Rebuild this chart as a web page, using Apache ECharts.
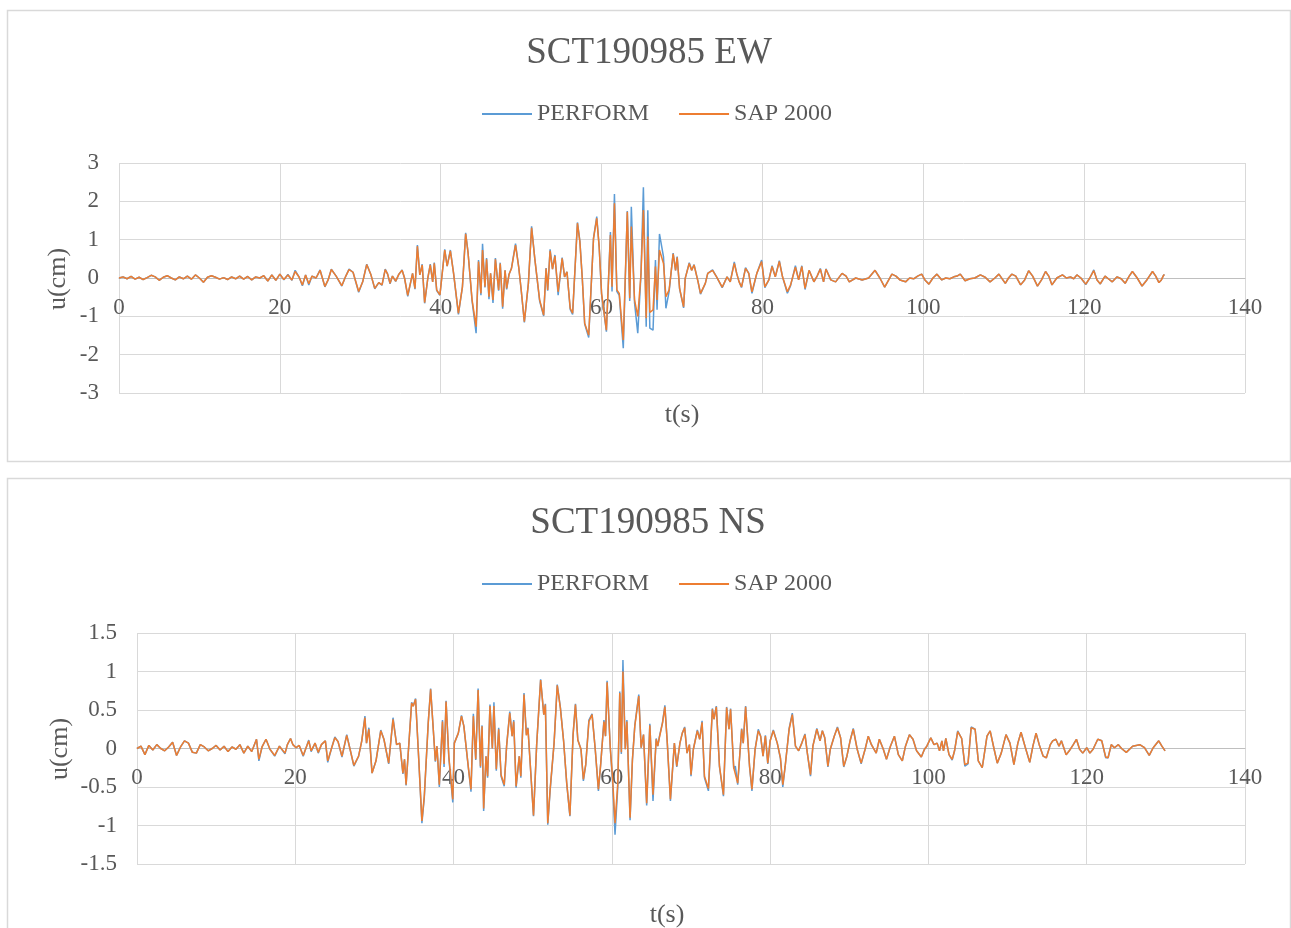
<!DOCTYPE html>
<html>
<head>
<meta charset="utf-8">
<script src="https://cdn.jsdelivr.net/npm/echarts@6/dist/echarts.min.js"></script>
<style>
html,body{margin:0;padding:0;background:#fff;}
#c{width:1291px;height:928px;}
</style>
</head>
<body>
<div id="c"></div>
<script>
// ---------- DATA ----------
const seriesNames = ['PERFORM', 'SAP 2000'];
const xTicks = [0, 20, 40, 60, 80, 100, 120, 140];

// EW component: time (s) and displacement u (cm)
const ewTime = [
 0,0.5,1,1.5,2,2.5,3,3.5,4,4.5,
 5,5.5,6,6.5,7,7.5,8,8.5,9,9.5,
 10,10.5,11,11.5,12,12.5,13,13.5,14,14.5,
 15,15.5,16,16.5,17,17.5,18,18.5,19,19.5,
 20,20.5,21,21.5,21.9,22.4,22.8,23.2,23.6,24,
 24.5,25,25.6,26,26.4,27,27.7,28.2,28.6,29.1,
 29.8,30.3,30.8,31.3,31.8,32.3,32.7,33.1,33.4,33.7,
 34,34.4,34.8,35.2,35.5,35.9,36.5,36.8,37.1,37.4,
 37.7,38,38.4,38.7,39,39.2,39.5,39.9,40.5,40.8,
 41.2,41.6,42.2,42.7,43.1,43.4,43.9,44.4,44.7,45,
 45.2,45.5,45.7,46,46.2,46.5,46.8,47.2,47.4,47.7,
 48,48.2,48.5,48.8,49,49.3,49.7,50,50.4,50.9,
 51.3,51.7,51.9,52.3,52.8,53.1,53.3,53.6,53.9,54.2,
 54.6,55.1,55.4,55.7,56.1,56.4,57,57.3,57.6,57.9,
 58.4,59,59.4,59.7,60,60.6,61.1,61.3,61.6,61.9,
 62.2,62.7,63.2,63.5,63.7,64.1,64.5,64.9,65.2,65.55,
 65.75,66,66.4,66.7,66.9,67.2,67.7,68,68.4,68.9,
 69.2,69.4,69.7,70.2,70.4,70.9,71.2,71.5,72,72.3,
 72.9,73.2,73.8,74.3,75,75.6,76,76.5,76.8,77.1,
 77.4,77.9,78.3,78.7,79.3,79.9,80.3,80.8,81.2,81.6,
 82.1,82.5,83.1,83.5,84.1,84.5,84.9,85.3,85.8,86.4,
 86.8,87.2,87.6,87.9,88.5,89.1,89.9,90.4,90.8,91.6,
 92.4,93.2,94,94.6,95.2,96.1,96.6,97.1,97.8,98.3,
 98.8,99.3,99.8,100.2,100.7,101.2,101.7,102.3,102.8,103.3,
 103.8,104.2,104.6,105.2,105.8,106.4,107.1,107.7,108.3,108.9,
 109.4,110.2,110.6,111,111.5,112.1,112.6,113.1,113.6,114.2,
 114.7,115.2,115.6,116,116.6,117.3,117.8,118.3,118.7,119.1,
 119.6,120.2,120.7,121.2,121.6,122,122.6,123,123.5,124.1,
 124.6,125.1,125.6,126,126.6,127.2,127.8,128.5,128.9,129.3,
 129.6,129.9,130
];
const ewSap = [
 0,0.03,-0.02,0.04,-0.03,0.02,-0.04,0.01,0.07,0.03,
 -0.06,0.02,0.06,0,-0.05,0.03,-0.02,0.05,-0.03,0.08,
 0,-0.11,0.02,0.06,0.02,-0.03,0.01,-0.04,0.03,-0.02,
 0.05,-0.03,0.04,-0.05,0.03,0,0.06,-0.08,0.08,-0.06,
 0.1,-0.04,0.08,-0.05,0.17,0.02,-0.18,0.08,-0.15,0.05,
 0,0.2,-0.22,-0.05,0.22,0.05,-0.2,0.05,0.22,0.15,
 -0.35,-0.1,0.35,0.1,-0.27,-0.12,-0.18,0.22,0.1,-0.14,
 0.05,-0.08,0.1,0.2,0,-0.45,0.12,-0.27,0.83,0.08,
 0.34,-0.64,0,0.34,-0.1,0.38,-0.31,-0.44,0.73,0.31,
 0.71,0.12,-0.92,-0.23,1.15,0.66,-0.57,-1.27,0.43,-0.4,
 0.73,-0.23,0.49,-0.49,0.12,-0.57,0.49,-0.31,0.38,-0.75,
 0.2,-0.27,0.1,0.25,0.22,0.86,0.28,-0.3,-1.14,-0.14,
 1.31,0.5,0.47,-0.57,-0.97,0.25,-0.31,0.71,0.23,0.57,
 -0.36,0.51,0.03,0.16,-0.79,-0.92,1.43,0.95,0,-1.18,
 -1.49,1.03,1.56,0.82,-0.4,-1.36,1.12,-0.23,1.95,-0.31,
 -0.4,-1.62,1.73,-0.53,1.34,-0.57,-1.0,0.1,1.77,-1.05,
 1.08,-0.9,-0.83,0.3,-0.57,0.73,0.38,-0.49,-0.31,0.63,
 0.2,0.54,-0.27,-0.75,-0.01,0.38,0.2,0.34,-0.1,-0.4,
 -0.14,0.12,0.2,0.03,-0.24,0.03,-0.1,0.38,0.12,-0.1,
 -0.23,0.25,0.12,-0.36,0.12,0.43,-0.23,-0.05,0.3,0.03,
 0.43,0.03,-0.36,-0.18,0.28,-0.05,0.3,-0.27,0.2,-0.1,
 0.05,0.23,-0.1,0.23,-0.05,-0.1,0.12,0.05,-0.1,0,
 -0.05,0,0.2,0,-0.24,0.1,0.05,-0.05,-0.1,0,
 -0.02,0.05,0.1,-0.05,-0.16,0,0.1,-0.05,0,-0.02,
 0.03,0.05,0.1,-0.07,-0.02,0,0.08,0.02,-0.1,0,
 0.1,-0.14,0,0.1,0.05,-0.18,-0.05,0.19,0.05,-0.21,
 -0.05,0.17,0.05,-0.18,0,0.08,0,0.03,-0.02,0.08,
 0,-0.16,0,0.19,-0.05,-0.15,0.05,-0.02,-0.1,0.03,
 -0.02,-0.14,0.05,0.17,0,-0.21,-0.05,0.17,0.05,-0.12,
 -0.05,0.08,0.07
];
const ewPerform = [
 0,0.03,-0.02,0.04,-0.03,0.02,-0.04,0.01,0.07,0.03,
 -0.06,0.02,0.06,0,-0.05,0.03,-0.02,0.05,-0.03,0.08,
 0,-0.11,0.02,0.06,0.02,-0.03,0.01,-0.04,0.03,-0.02,
 0.05,-0.03,0.04,-0.05,0.03,0,0.06,-0.08,0.08,-0.06,
 0.1,-0.05,0.09,-0.06,0.2,0.02,-0.2,0.08,-0.18,0.05,
 0,0.21,-0.23,-0.05,0.23,0.05,-0.21,0.05,0.23,0.15,
 -0.37,-0.1,0.36,0.1,-0.28,-0.12,-0.19,0.23,0.1,-0.15,
 0.05,-0.09,0.1,0.21,0,-0.48,0.12,-0.29,0.86,0.08,
 0.36,-0.66,0,0.36,-0.1,0.4,-0.33,-0.45,0.75,0.31,
 0.73,0.12,-0.95,-0.23,1.18,0.66,-0.6,-1.44,0.47,-0.45,
 0.89,-0.25,0.52,-0.55,0.12,-0.65,0.52,-0.33,0.4,-0.8,
 0.2,-0.3,0.1,0.26,0.22,0.9,0.28,-0.3,-1.16,-0.14,
 1.35,0.5,0.47,-0.6,-0.99,0.26,-0.33,0.75,0.23,0.6,
 -0.45,0.53,0.03,0.16,-0.82,-0.95,1.45,0.97,0,-1.2,
 -1.55,1.05,1.6,0.82,-0.42,-1.4,1.2,-0.35,2.19,-0.35,
 -0.45,-1.83,1.75,-0.6,1.86,-0.65,-1.44,0.1,2.37,-1.27,
 1.77,-1.31,-1.36,0.47,-0.83,1.15,0.55,-0.79,-0.35,0.65,
 0.2,0.56,-0.28,-0.78,-0.01,0.4,0.2,0.35,-0.1,-0.42,
 -0.14,0.12,0.21,0.03,-0.25,0.03,-0.1,0.42,0.12,-0.1,
 -0.25,0.27,0.12,-0.4,0.12,0.47,-0.25,-0.05,0.32,0.03,
 0.45,0.03,-0.4,-0.2,0.32,-0.05,0.32,-0.3,0.2,-0.1,
 0.05,0.25,-0.1,0.24,-0.05,-0.1,0.12,0.05,-0.1,0,
 -0.05,0,0.2,0,-0.24,0.1,0.05,-0.05,-0.1,0,
 -0.02,0.05,0.1,-0.05,-0.16,0,0.1,-0.05,0,-0.02,
 0.03,0.05,0.1,-0.07,-0.02,0,0.08,0.02,-0.1,0,
 0.1,-0.14,0,0.1,0.05,-0.18,-0.05,0.19,0.05,-0.21,
 -0.05,0.17,0.05,-0.18,0,0.08,0,0.03,-0.02,0.08,
 0,-0.17,0,0.21,-0.05,-0.16,0.05,-0.02,-0.1,0.03,
 -0.02,-0.14,0.05,0.17,0,-0.21,-0.05,0.17,0.05,-0.12,
 -0.05,0.08,0.07
];

// NS component
const nsTime = [
 0,0.5,1,1.5,2,2.5,3,3.5,4,4.5,
 5,5.5,6,6.5,7,7.5,8,8.5,9,9.5,
 10,10.5,11,11.5,12,12.5,13,13.5,14,14.5,
 15.1,15.4,15.8,16.3,16.8,17.4,18,18.7,19,19.4,
 19.7,20.1,20.5,21,21.4,21.7,22,22.5,22.9,23.3,
 23.8,24.1,24.6,25,25.4,25.9,26.5,26.9,27.4,28,
 28.4,28.8,29,29.3,29.7,30.2,30.8,31.2,31.8,32.35,
 32.8,33.2,33.6,33.8,34,34.7,34.9,35.2,35.6,36,
 36.3,36.8,37.1,37.7,37.9,38.2,38.6,38.8,39.05,39.4,
 39.9,40.1,40.6,41,41.3,41.9,42.2,42.5,42.8,43.1,
 43.4,43.6,43.8,44.1,44.3,44.6,44.9,45.1,45.4,45.7,
 46,46.4,46.7,47.1,47.4,47.6,47.9,48.3,48.5,48.9,
 49.2,49.4,50.1,50.5,51,51.4,51.6,51.9,52.2,52.7,
 53.1,53.5,53.9,54.3,54.7,55.1,55.4,55.7,56.1,56.4,
 56.7,57.1,57.5,57.9,58.3,58.6,59,59.2,59.4,59.8,
 60.1,60.4,60.75,61,61.2,61.4,61.7,61.9,62.3,62.6,
 62.9,63.4,63.7,64,64.4,64.8,65.2,65.6,65.8,66,
 66.4,66.7,67,67.4,67.9,68.2,68.6,68.9,69.2,69.5,
 69.8,70,70.3,70.8,71.1,71.4,71.7,72.2,72.7,72.9,
 73.2,73.6,74.1,74.5,74.8,75,75.4,75.6,75.9,76.4,
 76.6,76.9,77.4,77.7,78.1,78.5,78.8,79.1,79.4,79.7,
 80,80.4,80.9,81.3,81.6,81.9,82.4,82.8,83.2,83.6,
 84,84.4,84.7,85.1,85.4,85.9,86.3,86.6,86.9,87.3,
 87.6,88.1,88.5,88.9,89.3,89.7,90.1,90.5,91,91.5,
 92,92.4,92.8,93.4,93.8,94.3,94.7,95.2,95.7,96.2,
 96.7,97.1,97.6,98.05,98.5,99.1,99.5,99.8,100.3,100.7,
 101.1,101.4,101.7,101.9,102.2,102.6,103,103.3,103.7,104.2,
 104.6,105,105.4,105.9,106.3,106.8,107.4,107.8,108.3,108.7,
 109.2,109.8,110.3,110.8,111.3,111.7,112.2,112.8,113.2,113.6,
 114,114.5,114.9,115.4,115.7,116.1,116.5,116.8,117.4,117.8,
 118.3,118.7,119.1,119.5,120,120.4,120.8,121.4,121.9,122.4,
 122.7,123.1,123.5,124,124.4,125,125.8,126.7,127.3,127.9,
 128.4,129.1,129.5,129.9
];
const nsSap = [
 0,0.03,-0.08,0.04,-0.02,0.05,0,-0.03,0.02,0.08,
 -0.09,0.02,0.1,0.07,-0.05,-0.06,0.05,0.02,-0.03,0,
 0.04,-0.02,0.03,-0.04,0.02,-0.01,0.05,-0.06,0.03,-0.04,
 0.12,-0.14,0.02,0.12,-0.01,-0.09,0.03,-0.06,0.05,0.13,
 0.05,0.01,0.04,-0.09,0.02,0.1,-0.03,0.07,-0.05,0.05,
 0.1,-0.16,0.01,0.14,0.09,-0.1,0.17,0,-0.22,-0.1,
 0.1,0.4,0.07,0.25,-0.32,-0.16,0.23,0.12,-0.19,0.38,
 0.05,0.07,-0.32,-0.14,-0.47,0.59,0.55,0.64,-0.14,-0.94,
 -0.62,0.33,0.77,-0.16,0.03,-0.47,0.35,-0.2,0.61,-0.1,
 -0.66,0.07,0.2,0.42,0.29,-0.27,-0.53,0.42,-0.14,0.76,
 -0.23,0.29,-0.78,-0.1,-0.36,0.55,0,0.55,-0.27,0.25,
 -0.34,-0.47,0.03,0.46,0.16,0.35,-0.49,-0.1,-0.36,0.7,
 0.17,0.26,-0.87,0.05,0.89,0.44,0.57,-0.97,-0.53,0.07,
 0.82,0.52,0.1,-0.45,-0.87,0.18,0.57,0.11,-0.01,-0.4,
 -0.21,0.35,0.44,-0.01,-0.53,-0.19,0.35,0.16,0.86,0.01,
 -0.4,-0.97,-0.45,0.72,-0.05,1.0,-0.01,0.35,-0.9,-0.14,
 0.29,0.68,0.01,0.18,-0.71,0.3,-0.6,0.12,0.03,0.14,
 0.33,0.54,0.08,-0.66,0.07,-0.23,0.07,0.2,0.27,-0.06,
 0.05,-0.34,-0.01,0.23,0.12,0.34,-0.36,-0.52,0.51,0.38,
 0.54,-0.23,-0.6,0.53,0.25,0.51,-0.25,-0.23,-0.45,0.25,
 0.07,0.54,-0.23,-0.53,-0.01,0.23,0.16,-0.1,0.16,-0.19,
 0.1,0.23,0.07,-0.12,-0.47,-0.23,0.25,0.44,0.03,-0.03,
 0.07,0.18,-0.06,-0.34,0.03,0.25,0.1,0.23,0.14,-0.23,
 -0.01,0.16,0.27,0.14,-0.23,-0.1,0.1,0.25,-0.01,-0.19,
 -0.01,0.16,0.05,-0.06,0.12,-0.01,-0.14,0.03,0.16,-0.08,
 -0.16,0.03,0.18,0.12,-0.03,-0.11,-0.01,0.03,0.14,0.05,
 0.07,-0.03,0.1,-0.03,0.13,-0.08,-0.14,-0.03,0.22,0.13,
 -0.21,-0.19,0.27,0.25,-0.16,-0.25,0.16,0.23,-0.01,-0.19,
 -0.06,0.18,0.07,-0.21,0.07,0.21,0.03,-0.18,0.03,0.2,
 0.05,-0.1,-0.12,0.05,0.1,0.12,0.03,0.1,-0.08,-0.03,
 0.05,0.12,-0.01,-0.06,0.01,-0.06,-0.01,0.12,0.1,-0.11,
 -0.12,0.05,0.01,0.05,0,-0.05,0.03,0.05,0.01,-0.09,
 0.01,0.1,0.03,-0.03
];
const nsPerform = [
 0,0.03,-0.08,0.04,-0.02,0.05,0,-0.03,0.02,0.08,
 -0.09,0.02,0.1,0.07,-0.05,-0.06,0.05,0.02,-0.03,0,
 0.04,-0.02,0.03,-0.04,0.02,-0.01,0.05,-0.06,0.03,-0.04,
 0.12,-0.16,0.02,0.12,-0.01,-0.1,0.03,-0.07,0.05,0.13,
 0.05,0.01,0.04,-0.1,0.02,0.11,-0.04,0.07,-0.06,0.05,
 0.1,-0.18,0.01,0.15,0.09,-0.11,0.18,0,-0.23,-0.1,
 0.1,0.42,0.07,0.27,-0.32,-0.16,0.24,0.12,-0.2,0.4,
 0.05,0.07,-0.33,-0.14,-0.48,0.6,0.55,0.65,-0.14,-0.97,
 -0.64,0.34,0.78,-0.17,0.03,-0.5,0.37,-0.24,0.62,-0.12,
 -0.7,0.07,0.2,0.43,0.29,-0.28,-0.56,0.45,-0.15,0.78,
 -0.25,0.3,-0.81,-0.1,-0.38,0.57,0,0.6,-0.29,0.27,
 -0.36,-0.49,0.03,0.48,0.16,0.37,-0.51,-0.1,-0.38,0.72,
 0.18,0.27,-0.88,0.05,0.9,0.44,0.58,-0.99,-0.55,0.07,
 0.83,0.53,0.1,-0.46,-0.88,0.18,0.58,0.11,-0.01,-0.42,
 -0.21,0.37,0.45,-0.01,-0.55,-0.19,0.37,0.16,0.88,0.01,
 -0.45,-1.12,-0.5,0.74,-0.07,1.15,-0.01,0.37,-0.93,-0.15,
 0.3,0.7,0.01,0.18,-0.74,0.32,-0.68,0.13,0.03,0.15,
 0.34,0.56,0.08,-0.68,0.07,-0.24,0.07,0.2,0.28,-0.06,
 0.05,-0.36,-0.01,0.24,0.12,0.36,-0.38,-0.55,0.52,0.38,
 0.55,-0.24,-0.62,0.54,0.25,0.52,-0.26,-0.23,-0.47,0.26,
 0.07,0.55,-0.24,-0.55,-0.01,0.25,0.16,-0.1,0.17,-0.2,
 0.1,0.24,0.07,-0.13,-0.5,-0.23,0.26,0.46,0.03,-0.03,
 0.07,0.19,-0.06,-0.36,0.03,0.26,0.1,0.23,0.14,-0.24,
 -0.01,0.16,0.28,0.14,-0.24,-0.1,0.1,0.26,-0.01,-0.2,
 -0.01,0.16,0.05,-0.06,0.12,-0.01,-0.14,0.03,0.16,-0.08,
 -0.16,0.03,0.18,0.12,-0.03,-0.11,-0.01,0.03,0.14,0.05,
 0.07,-0.03,0.1,-0.03,0.13,-0.08,-0.15,-0.03,0.23,0.13,
 -0.23,-0.2,0.28,0.25,-0.16,-0.25,0.16,0.23,-0.01,-0.19,
 -0.06,0.18,0.07,-0.21,0.07,0.21,0.03,-0.18,0.03,0.2,
 0.05,-0.1,-0.12,0.05,0.1,0.12,0.03,0.1,-0.08,-0.03,
 0.05,0.12,-0.01,-0.06,0.01,-0.06,-0.01,0.12,0.1,-0.12,
 -0.12,0.05,0.01,0.05,0,-0.05,0.03,0.05,0.01,-0.09,
 0.01,0.1,0.03,-0.03
];

// ---------- CHART ----------
const FONT = '"Liberation Serif", "Times New Roman", serif';
const TXT = '#595959';
const GRID = '#d9d9d9';
const BLUE = '#5b9bd5';
const ORANGE = '#ed7d31';

function pairs(t, v) { return t.map((x, i) => [x, v[i]]); }

// x axis drawn across the u = 0 line (Excel "crosses at 0"): shift the bottom axis up by half the grid height
function xAxisCfg(gi, shift) {
  return {
    gridIndex: gi, type: 'value', min: 0, max: 140, interval: 20,
    position: 'bottom', offset: -shift,
    axisLine: { show: true, onZero: false, lineStyle: { color: '#bfbfbf', width: 1 } },
    axisTick: { show: false },
    axisLabel: { color: TXT, fontFamily: FONT, fontSize: 23, margin: 18,
      formatter: v => xTicks.includes(v) ? String(v) : '' },
    splitLine: { show: true, lineStyle: { color: GRID, width: 1 } }
  };
}
function yAxisCfg(gi, min, max, interval) {
  return {
    gridIndex: gi, type: 'value', min, max, interval,
    axisLine: { show: false, onZero: false }, axisTick: { show: false },
    axisLabel: { color: TXT, fontFamily: FONT, fontSize: 23, margin: 20 },
    splitLine: { show: true, lineStyle: { color: GRID, width: 1 } }
  };
}
function lineSeries(name, color, gi, data) {
  return {
    name, type: 'line', xAxisIndex: gi, yAxisIndex: gi, data,
    symbol: 'none', showSymbol: false, color,
    lineStyle: { color, width: 1.5 }, animation: false, z: name === 'SAP 2000' ? 3 : 2
  };
}
function txt(text, x, y, size, rot) {
  return { type: 'text', x, y, rotation: rot || 0, silent: true,
    style: { text, font: size + 'px ' + FONT, fill: TXT,
      textAlign: 'center', textVerticalAlign: 'middle', align: 'center', verticalAlign: 'middle' } };
}
function legendCfg(top) {
  return {
    data: seriesNames, top, left: 477, icon: 'rect', itemWidth: 50, itemHeight: 2,
    itemGap: 30, textStyle: { color: TXT, fontFamily: FONT, fontSize: 24 }, selectedMode: false
  };
}

const chart = echarts.init(document.getElementById('c'), null, { renderer: 'canvas' });
chart.setOption({
  animation: false,
  backgroundColor: '#fff',
  grid: [
    { left: 119, top: 163, width: 1126, height: 230 },
    { left: 137, top: 633, width: 1108, height: 231 }
  ],
  legend: [legendCfg(97), legendCfg(567)],
  xAxis: [xAxisCfg(0, 115), xAxisCfg(1, 115.5)],
  yAxis: [yAxisCfg(0, -3, 3, 1), yAxisCfg(1, -1.5, 1.5, 0.5)],
  series: [
    lineSeries(seriesNames[0], BLUE, 0, pairs(ewTime, ewPerform)),
    lineSeries(seriesNames[1], ORANGE, 0, pairs(ewTime, ewSap)),
    lineSeries(seriesNames[0], BLUE, 1, pairs(nsTime, nsPerform)),
    lineSeries(seriesNames[1], ORANGE, 1, pairs(nsTime, nsSap))
  ],
  graphic: [
    { type: 'rect', silent: true, shape: { x: 7.5, y: 10.5, width: 1283, height: 451 },
      style: { fill: 'none', stroke: GRID, lineWidth: 1.5 } },
    { type: 'rect', silent: true, shape: { x: 7.5, y: 478.5, width: 1283, height: 470 },
      style: { fill: 'none', stroke: GRID, lineWidth: 1.5 } },
    txt('SCT190985 EW', 649, 53, 37),
    txt('SCT190985 NS', 648, 523, 37),
    txt('t(s)', 682, 415, 26),
    txt('t(s)', 667, 915, 26),
    txt('u(cm)', 58, 279, 26, Math.PI / 2),
    txt('u(cm)', 60, 749, 26, Math.PI / 2)
  ]
});
</script>
</body>
</html>
